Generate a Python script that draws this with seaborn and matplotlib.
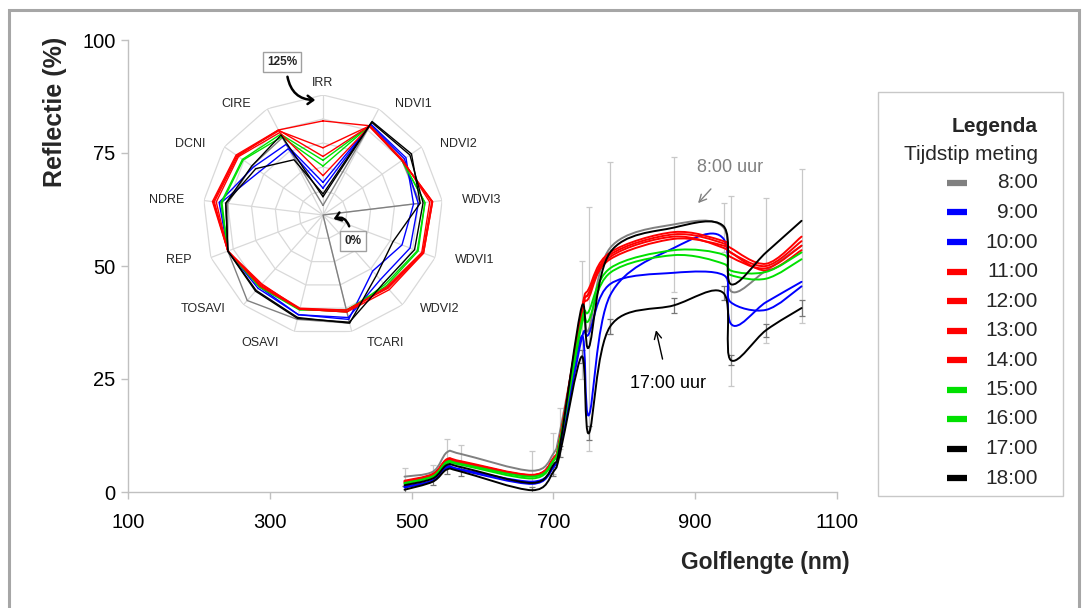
import numpy as np
import matplotlib
matplotlib.use("Agg")
import matplotlib.pyplot as plt
import seaborn as sns
import pandas as pd
from matplotlib.path import Path
from matplotlib.patches import PathPatch, Rectangle, FancyArrowPatch
from matplotlib.lines import Line2D

# ---------------- spectral data (reflectance %, per band) ----------------
wavelengths = [490, 530, 550, 570, 670, 700, 710, 740, 750, 780, 870, 940, 950, 1000, 1050]

times = ["8:00", "9:00", "10:00", "11:00", "12:00", "13:00", "14:00",
         "15:00", "16:00", "17:00", "18:00"]

refl_0800 = [3.4, 4.5, 8.8, 8.4, 4.7, 8.5, 14.0, 38.0, 36.0, 54.0, 59.2, 58.5, 44.5, 49.0, 54.5]
refl_0900 = [1.2, 2.6, 5.6, 5.0, 2.3, 5.5, 10.0, 34.0, 35.0, 46.0, 48.5, 48.0, 42.0, 40.3, 45.5]
refl_1000 = [1.0, 2.4, 5.4, 4.8, 1.8, 5.5, 10.0, 34.5, 17.0, 43.5, 54.0, 56.0, 37.3, 42.0, 46.5]
refl_1100 = [2.5, 4.0, 7.3, 6.8, 3.8, 7.5, 12.5, 40.5, 45.0, 53.0, 57.5, 55.5, 54.0, 50.5, 56.5]
refl_1200 = [2.3, 3.9, 7.0, 6.6, 3.7, 7.4, 12.3, 40.0, 44.0, 52.5, 57.0, 55.0, 53.0, 50.0, 55.5]
refl_1300 = [2.0, 3.8, 6.8, 6.5, 3.6, 7.2, 12.0, 39.5, 43.0, 52.0, 56.5, 54.0, 52.0, 49.5, 54.5]
refl_1400 = [2.2, 3.9, 7.1, 6.6, 3.7, 7.3, 12.2, 40.0, 44.0, 51.5, 56.0, 54.5, 53.0, 49.0, 53.5]
refl_1500 = [2.0, 3.5, 6.7, 6.2, 3.4, 7.0, 12.0, 38.0, 40.0, 49.5, 53.5, 52.5, 49.0, 48.7, 53.0]
refl_1600 = [1.8, 3.4, 6.4, 6.0, 3.0, 6.8, 11.5, 37.0, 38.0, 48.5, 52.4, 50.5, 48.0, 47.2, 51.5]
refl_1700 = [0.5, 2.3, 5.0, 4.5, 0.4, 4.5, 9.0, 30.0, 13.0, 36.6, 41.3, 44.0, 29.2, 35.8, 40.7]
refl_1800 = [1.5, 3.0, 6.0, 5.5, 2.0, 6.0, 11.0, 41.0, 32.0, 53.0, 58.5, 58.8, 46.0, 53.0, 60.0]

# standard deviations shown as error bars
sd_0800 = [2.0, 1.5, 3.0, 2.0, 4.3, 4.5, 4.5, 13.0, 27.0, 19.0, 15.0, 5.5, 21.0, 16.0, 17.0]
sd_1700 = [0.8, 0.8, 1.0, 1.0, 0.8, 1.0, 1.2, 1.5, 1.5, 1.7, 1.7, 1.5, 1.2, 1.4, 1.7]

series_colors = ["#808080", "#0000ff", "#0000ff", "#ff0000", "#ff0000", "#ff0000",
                 "#ff0000", "#00e000", "#00e000", "#000000", "#000000"]

# ---------------- vegetation index profile (% of reference) ----------------
indices = ["IRR", "NDVI1", "NDVI2", "WDVI3", "WDVI1", "WDVI2", "TCARI",
           "OSAVI", "TOSAVI", "REP", "NDRE", "DCNI", "CIRE"]

idx_0800 = [10, 105, 100, 102, 0, 0, 116, 112, 119, 106, 100, 90, 91]
idx_0900 = [34, 106, 103, 100, 97, 90, 110, 107, 102, 106, 109, 88, 83]
idx_1000 = [28, 107, 105, 95, 88, 78, 112, 107, 100, 106, 107, 80, 78]
idx_1100 = [98, 105, 100, 115, 112, 102, 102, 101, 98, 106, 116, 110, 100]
idx_1200 = [70, 105, 101, 112, 110, 100, 104, 101, 96, 106, 115, 109, 99]
idx_1300 = [61, 105, 100, 114, 111, 101, 102, 100, 97, 106, 114, 108, 100]
idx_1400 = [41, 104, 100, 115, 112, 104, 104, 101, 99, 106, 112, 107, 97]
idx_1500 = [57, 105, 100, 107, 105, 97, 104, 101, 100, 106, 107, 102, 95]
idx_1600 = [51, 105, 100, 107, 106, 99, 102, 102, 100, 106, 106, 101, 92]
idx_1700 = [22, 110, 112, 102, 78, 84, 116, 110, 105, 106, 102, 85, 65]
idx_1800 = [19, 109, 110, 105, 102, 95, 115, 111, 106, 106, 102, 90, 94]

refl = [refl_0800, refl_0900, refl_1000, refl_1100, refl_1200, refl_1300,
        refl_1400, refl_1500, refl_1600, refl_1700, refl_1800]
idx = [idx_0800, idx_0900, idx_1000, idx_1100, idx_1200, idx_1300,
       idx_1400, idx_1500, idx_1600, idx_1700, idx_1800]

W, H = 1083, 608
PT = 72.0 / 100.0  # points per pixel at 100 dpi


def fx(px):
    return px / W


def fy(py):
    return 1 - py / H


def smooth_path(xs, ys):
    """Smoothed (Catmull-Rom style) Bezier path through the given points."""
    pts = np.column_stack([xs, ys]).astype(float)
    n = len(pts)
    verts = [pts[0]]
    codes = [Path.MOVETO]
    for i in range(n - 1):
        p0 = pts[i - 1] if i > 0 else pts[i]
        p1 = pts[i]
        p2 = pts[i + 1]
        p3 = pts[i + 2] if i + 2 < n else pts[i + 1]
        verts += [p1 + (p2 - p0) / 6.0, p2 - (p3 - p1) / 6.0, p2]
        codes += [Path.CURVE4] * 3
    return Path(verts, codes)


sns.set_theme(style="white")
plt.rcParams["font.family"] = ["Liberation Sans", "DejaVu Sans"]

fig = plt.figure(figsize=(W / 100, H / 100), dpi=100)
fig.patch.set_facecolor("white")

# outer frame
fig.patches.append(Rectangle((fx(9), fy(640)), fx(1079) - fx(9), fy(10) - fy(640),
                             transform=fig.transFigure, fill=False,
                             edgecolor="#a6a6a6", linewidth=2.2, zorder=0))

# ---------------- main spectral axes ----------------
ax = fig.add_axes([fx(128), fy(492), fx(837) - fx(128), fy(40) - fy(492)])
ax.set_facecolor("none")
ax.set_xlim(100, 1100)
ax.set_ylim(0, 100)
ax.set_xticks([100, 300, 500, 700, 900, 1100])
ax.set_yticks([0, 25, 50, 75, 100])
for side in ["top", "right"]:
    ax.spines[side].set_visible(False)
for side in ["left", "bottom"]:
    ax.spines[side].set_color("#c0c0c0")
    ax.spines[side].set_linewidth(1.0)
ax.tick_params(axis="both", which="both", direction="out", length=5, width=1,
               color="#c0c0c0", labelsize=14.5, labelcolor="#000000", pad=4,
               bottom=True, left=True)
ax.tick_params(axis="x", pad=10)

# error bars of the 8:00 and 17:00 measurements
ax.errorbar(wavelengths, refl_0800, yerr=sd_0800, fmt="none", ecolor="#c8c8c8",
            elinewidth=0.9, capsize=2, capthick=0.9, zorder=1)
ax.errorbar(wavelengths, refl_1700, yerr=sd_1700, fmt="none", ecolor="#777777",
            elinewidth=0.9, capsize=2, capthick=0.9, zorder=1)

draw_order = [0, 1, 2, 7, 8, 3, 4, 5, 6, 9, 10]
for i in draw_order:
    ax.add_patch(PathPatch(smooth_path(wavelengths, refl[i]), facecolor="none",
                           edgecolor=series_colors[i], linewidth=1.4, zorder=2 + i * 0.01,
                           capstyle="round", joinstyle="round"))

ax.annotate("8:00 uur", xy=(904, 63.9), xytext=(949, 71.7), ha="center", va="center",
            fontsize=13, color="#808080",
            arrowprops=dict(arrowstyle="->", color="#808080", lw=1.0,
                            shrinkA=9, shrinkB=0))
ax.annotate("17:00 uur", xy=(844.7, 35.8), xytext=(861.6, 24.1), ha="center", va="center",
            fontsize=13, color="#000000",
            arrowprops=dict(arrowstyle="->", color="#000000", lw=1.0,
                            shrinkA=9, shrinkB=0))

fig.text(fx(55), fy(112), "Reflectie (%)", rotation=90, ha="center", va="center",
         fontsize=18, fontweight="bold")
fig.text(fx(765), fy(562), "Golflengte (nm)", ha="center", va="center",
         fontsize=16.5, fontweight="bold")

# ---------------- legend ----------------
fig.patches.append(Rectangle((fx(878), fy(496)), fx(1063) - fx(878), fy(92) - fy(496),
                             transform=fig.transFigure, fill=False,
                             edgecolor="#c8c8c8", linewidth=1.0))
fig.text(fx(1038), fy(126), "Legenda", ha="right", va="center", fontsize=15,
         fontweight="bold")
fig.text(fx(1038), fy(154), "Tijdstip meting", ha="right", va="center", fontsize=15)
for k, (t, c) in enumerate(zip(times, series_colors)):
    yy = 183 + 29.5 * k
    fig.text(fx(1038), fy(yy), t, ha="right", va="center", fontsize=15)
    fig.lines.append(Line2D([fx(947), fx(967)], [fy(yy), fy(yy)],
                            transform=fig.transFigure, color=c, linewidth=4.5,
                            solid_capstyle="butt"))

# ---------------- radar inset ----------------
cx, cy, rad = 323, 215, 120
pax = fig.add_axes([fx(cx - rad), fy(cy + rad), fx(2 * rad), (2 * rad) / H],
                   projection="polar")
pax.set_theta_zero_location("N")
pax.set_theta_direction(-1)
pax.grid(False)
pax.spines["polar"].set_visible(False)
pax.patch.set_alpha(0)

n_ax = len(indices)
angles = np.arange(n_ax) * 2 * np.pi / n_ax
closed = np.append(angles, angles[0])
for ring in [25, 50, 75, 100, 125]:
    pax.plot(closed, [ring] * (n_ax + 1), color="#d9d9d9", lw=0.9, zorder=0)
for a in angles:
    pax.plot([a, a], [0, 125], color="#d9d9d9", lw=0.9, zorder=0)

rows = []
for t, vals in zip(times, idx):
    v = list(vals) + [vals[0]]
    for j, (a, r) in enumerate(zip(closed, v)):
        rows.append({"time": t, "theta": a, "value": r, "order": j})
radar_df = pd.DataFrame(rows)
palette = dict(zip(times, series_colors))
for t in [times[i] for i in draw_order]:
    sns.lineplot(data=radar_df[radar_df["time"] == t], x="theta", y="value",
                 color=palette[t], sort=False, estimator=None, lw=1.0,
                 legend=False, ax=pax)
pax.set_xlabel("")
pax.set_ylabel("")
pax.set_xticks([])
pax.set_yticks([])
pax.set_ylim(0, 125)

# axis names around the radar
for a, name in zip(angles, indices):
    s, c = np.sin(a), np.cos(a)
    if s > 0.2:
        ha, dx = "left", 14
    elif s < -0.2:
        ha, dx = "right", -14
    else:
        ha, dx = "center", 0
    if c > 0.9:
        va = "bottom"
    elif c < -0.9:
        va = "top"
    else:
        va = "center"
    pax.annotate(name, xy=(a, 131), xycoords="data", xytext=(dx * PT, 0),
                 textcoords="offset points", ha=ha, va=va, fontsize=9,
                 annotation_clip=False)

# scale markers of the radar
fig.text(fx(282), fy(62), "125%", ha="center", va="center", fontsize=8.5,
         fontweight="bold",
         bbox=dict(boxstyle="square,pad=0.35", facecolor="white", edgecolor="#a0a0a0", lw=1))
fig.text(fx(353), fy(241), "0%", ha="center", va="center", fontsize=8.5,
         fontweight="bold",
         bbox=dict(boxstyle="square,pad=0.35", facecolor="white", edgecolor="#a0a0a0", lw=1))
fig.patches.append(FancyArrowPatch((fx(287), fy(74)), (fx(318), fy(100)),
                                   transform=fig.transFigure, connectionstyle="arc3,rad=0.45",
                                   arrowstyle="->,head_length=4,head_width=3",
                                   color="black", lw=1.8))
fig.patches.append(FancyArrowPatch((fx(350), fy(229)), (fx(331), fy(220)),
                                   transform=fig.transFigure, connectionstyle="arc3,rad=0.6",
                                   arrowstyle="->,head_length=4,head_width=3",
                                   color="black", lw=1.8))

fig.savefig("out.png", dpi=100)
